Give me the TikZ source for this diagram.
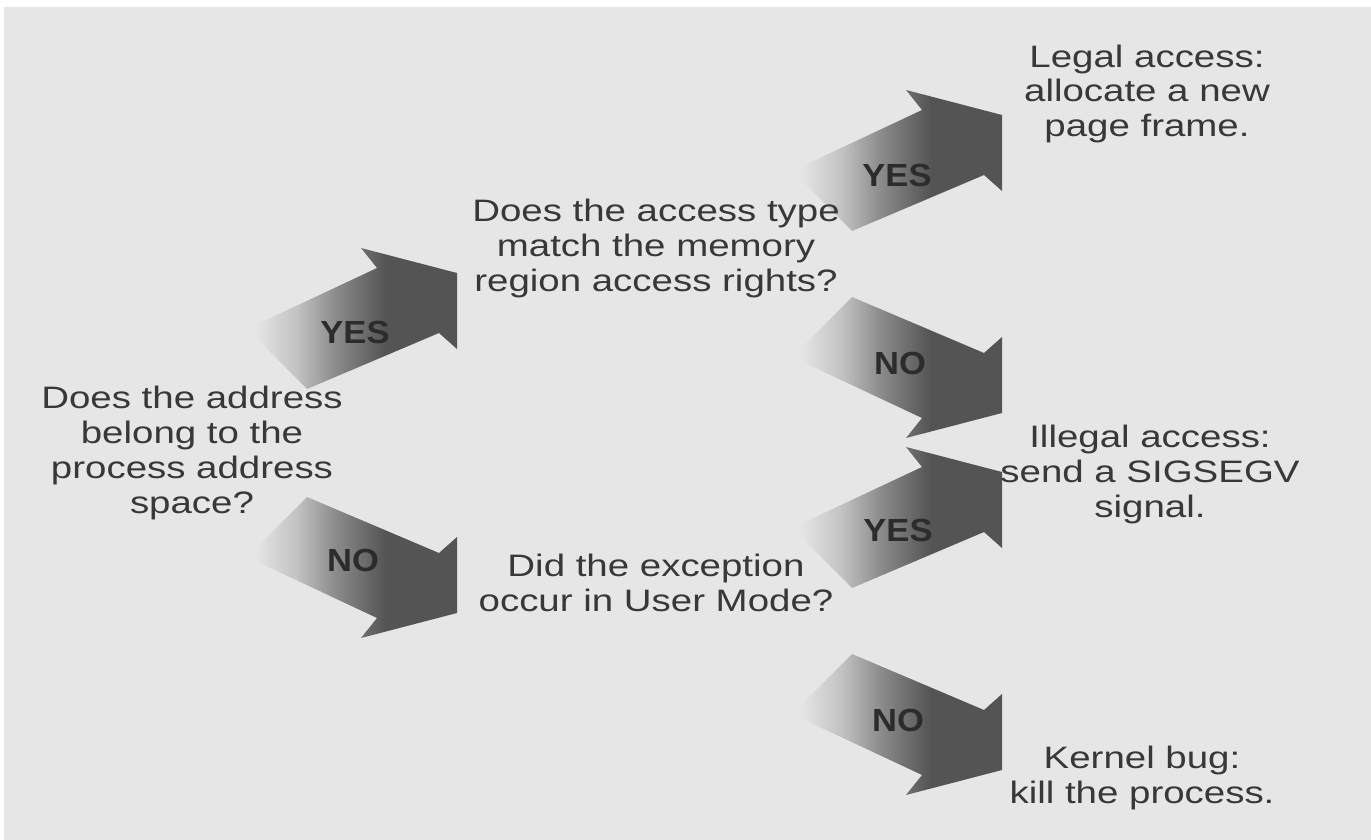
\documentclass[tikz,border=0pt]{standalone}
\usepackage{fontspec}
\newfontfamily\qfont[FakeStretch=1.24]{Liberation Sans}
\newfontfamily\tagfont[FakeStretch=1.08]{Liberation Sans}
\definecolor{bgc}{HTML}{E6E6E6}
\definecolor{arrowc}{HTML}{545454}
\definecolor{textc}{HTML}{383838}
\definecolor{tagc}{HTML}{2C2C2C}
% fades the tail of a fat arrow into the background (left to right)
\pgfdeclarehorizontalshading{tailfade}{100bp}{color(0bp)=(bgc); color(27bp)=(bgc); color(37bp)=(arrowc!25!bgc); color(46bp)=(arrowc!62!bgc); color(58bp)=(arrowc); color(100bp)=(arrowc)}
\tikzset{
  question/.style={font=\qfont\fontsize{31}{35}\selectfont, text=textc, align=center, inner sep=0pt, anchor=base},
  tag/.style={font=\tagfont\bfseries\fontsize{32}{32}\selectfont, text=tagc, inner sep=0pt},
  pics/fatarrow/.style={code={
    \shade[shading=tailfade]
      (0,-38) -- (0,38) -- (-18,22) -- (-150,78) -- (-210,18)
      -- (-80,-43) -- (-96,-63) -- cycle;
  }},
}
\begin{document}
\begin{tikzpicture}[x=1pt, y=-1pt]
  \useasboundingbox (0,0) rectangle (1371,840);
  \fill[white] (0,0) rectangle (1371,840);
  \fill[bgc] (4,7) rectangle (1371,840);

  % fat arrows, placed by the midpoint of their flat front edge
  \coordinate (a1) at (457,311);
  \coordinate (a2) at (457,575);
  \coordinate (a3) at (1002,153);
  \coordinate (a4) at (1002,375);
  \coordinate (a5) at (1002,510);
  \coordinate (a6) at (1002,732);
  \pic at (a1) {fatarrow};
  \pic[yscale=-1] at (a2) {fatarrow};
  \pic at (a3) {fatarrow};
  \pic[yscale=-1] at (a4) {fatarrow};
  \pic at (a5) {fatarrow};
  \pic[yscale=-1] at (a6) {fatarrow};

  \node[tag] (y1) at (355,332) {YES};
  \node[tag] (n1) at (353,560) {NO};
  \node[tag] (y2) at (897,175) {YES};
  \node[tag] (n2) at (900,363) {NO};
  \node[tag] (y3) at (898,530) {YES};
  \node[tag] (n3) at (898,720) {NO};

  % decisions and outcomes (placed by the baseline of their last line)
  \node[question] (root) at (192,513) {Does the address\\belong to the\\process address\\space?};
  \node[question] (rights) at (656,291) {Does the access type\\match the memory\\region access rights?};
  \node[question] (usermode) at (656,611) {Did the exception\\occur in User Mode?};
  \node[question] (legal) at (1147,137) {Legal access:\\allocate a new\\page frame.};
  \node[question] (illegal) at (1150,517) {Illegal access:\\send a SIGSEGV\\signal.};
  \node[question] (kbug) at (1142,803) {Kernel bug:\\kill the process.};
\end{tikzpicture}
\end{document}
